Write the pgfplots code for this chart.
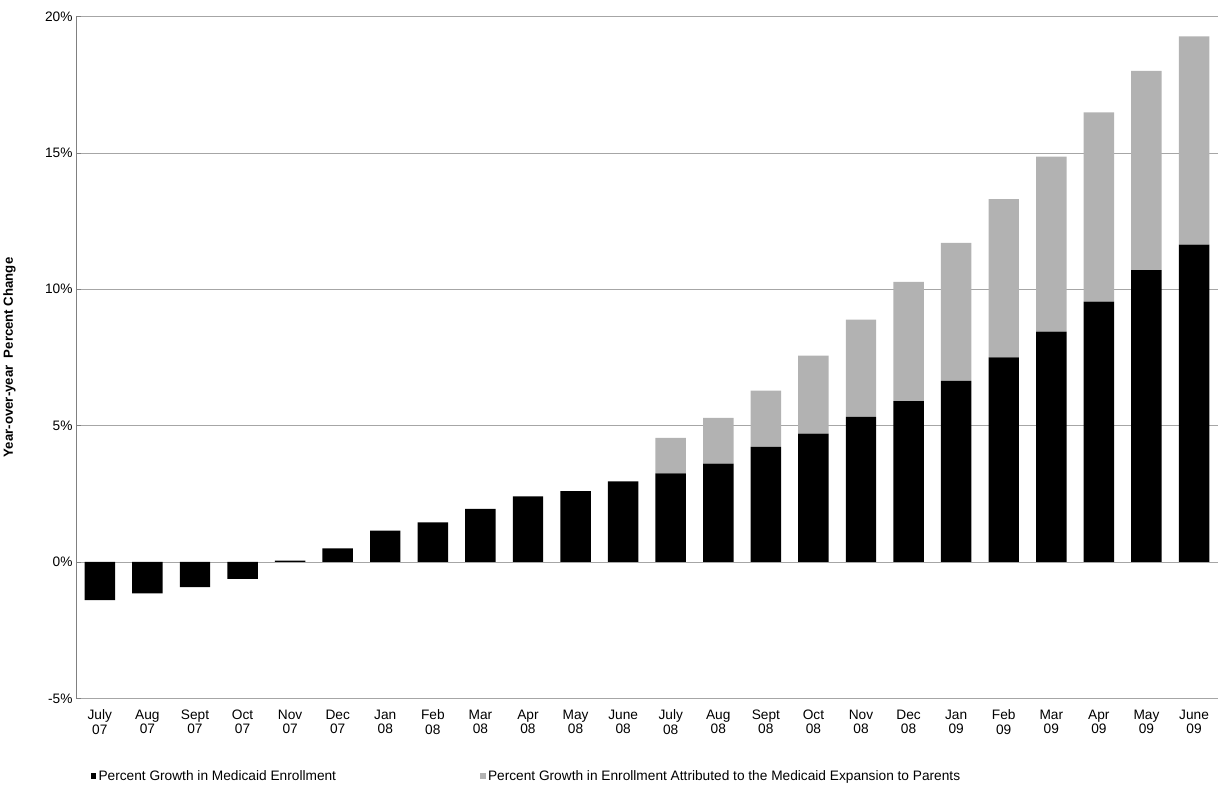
\documentclass[border={0pt 0pt 0pt 8pt}]{standalone}
\usepackage{pgfplots}
\pgfplotsset{compat=1.18}
\usepackage{fontspec}
\setmainfont{Liberation Sans}
\begin{document}
\begin{tikzpicture}
\pgfplotsset{/pgf/number format/assume math mode=true}
\begin{axis}[
  scale only axis, width=1125pt, height=672pt,
  ybar stacked, bar width=30pt,
  xmin=-0.5, xmax=23.5, ymin=-5, ymax=20,
  xtick={0,...,23},
  xticklabels={July\\07,Aug\\07,Sept\\07,Oct\\07,Nov\\07,Dec\\07,Jan\\08,Feb\\08,Mar\\08,Apr\\08,May\\08,June\\08,July\\08,Aug\\08,Sept\\08,Oct\\08,Nov\\08,Dec\\08,Jan\\09,Feb\\09,Mar\\09,Apr\\09,May\\09,June\\09},
  xticklabel style={align=center, yshift=-8pt, font=\fontsize{13.5pt}{14pt}\selectfont},
  ytick={-5,0,5,10,15,20},
  yticklabel={\pgfmathprintnumber{\tick}\%},
  yticklabel style={font=\fontsize{13.5pt}{14pt}\selectfont},
  ymajorgrids, grid style={gray!70},
  axis x line*=bottom, x axis line style={draw=none},
  axis y line*=left,
  y axis line style={gray}, ytick style={gray},
  xtick style={draw=none},
  major tick length=5pt,
  ylabel={\bfseries Year-over-year\ \ Percent Change},
  ylabel shift=22pt,
  ylabel style={font=\fontsize{13pt}{14pt}\selectfont},
  clip=false,
  legend style={at={(0.01,-0.1)}, anchor=north west, draw=none, legend columns=2,
    font=\fontsize{13.5pt}{14pt}\selectfont, /tikz/every even column/.append style={column sep=140pt}},
  legend image code/.code={\fill[#1] (0,-0.09cm) rectangle (0.2cm,0.11cm);},
  legend cell align=left,
]
\addplot[fill=black, draw=none] coordinates {(0,-1.4)(1,-1.15)(2,-0.92)(3,-0.62)(4,0.05)(5,0.5)(6,1.15)(7,1.45)(8,1.95)(9,2.4)(10,2.6)(11,2.95)(12,3.25)(13,3.6)(14,4.22)(15,4.7)(16,5.32)(17,5.9)(18,6.64)(19,7.5)(20,8.44)(21,9.54)(22,10.7)(23,11.63)};
\addplot[fill=gray!60, draw=none] coordinates {(0,0)(1,0)(2,0)(3,0)(4,0)(5,0)(6,0)(7,0)(8,0)(9,0)(10,0)(11,0)(12,1.3)(13,1.68)(14,2.06)(15,2.86)(16,3.56)(17,4.37)(18,5.06)(19,5.8)(20,6.42)(21,6.94)(22,7.3)(23,7.64)};
\legend{Percent Growth in Medicaid Enrollment, Percent Growth in Enrollment Attributed to the Medicaid Expansion to Parents}
\end{axis}
\end{tikzpicture}
\end{document}
